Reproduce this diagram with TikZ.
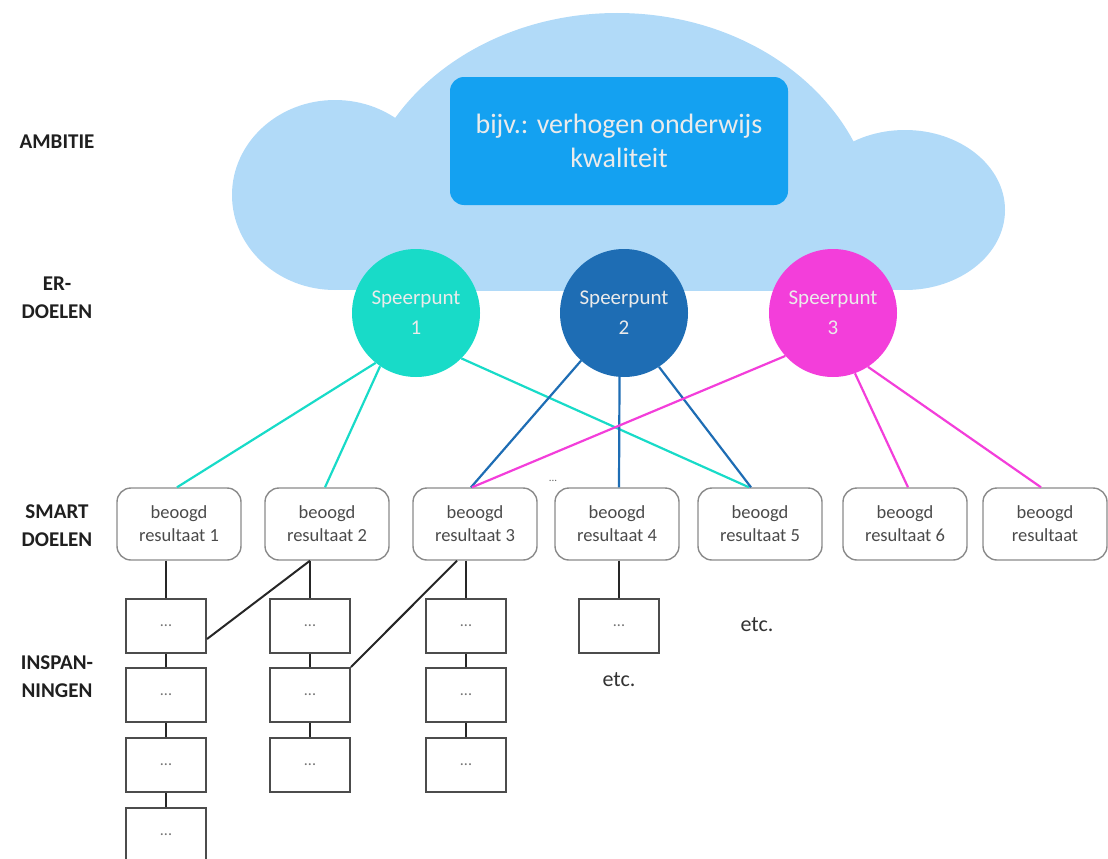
\documentclass[tikz,border=0pt]{standalone}
\usepackage{fontspec}
\setmainfont{Carlito}
\definecolor{cloudc}{HTML}{B1DAF8}
\definecolor{ambc}{HTML}{14A1F1}
\definecolor{turq}{HTML}{18DBC8}
\definecolor{dblue}{HTML}{1E6DB4}
\definecolor{magc}{HTML}{F33EDA}
\definecolor{boxgray}{HTML}{8A8A8A}
\definecolor{txtgray}{HTML}{4A4A4A}
\tikzset{
  lvl/.style={font=\bfseries\fontsize{21}{28}\selectfont, align=center, text=black!88},
  spk/.style={circle, minimum size=128pt, inner sep=0pt, text=white!92!black, align=center, font=\fontsize{21}{30}\selectfont},
  res/.style={draw=boxgray, line width=1.4pt, rounded corners=14pt, minimum width=124pt, minimum height=72pt, inner sep=0pt, align=center, text=txtgray, font=\fontsize{18.5}{23}\selectfont},
  insp/.style={draw=black!70, line width=2pt, minimum width=80pt, minimum height=54pt, inner sep=0pt, text=black!55, font=\fontsize{16}{16}\selectfont},
  lnk/.style={line width=2.2pt},
  blk/.style={line width=2pt, black!85},
  etc/.style={font=\fontsize{22}{24}\selectfont, text=black!80}
}
\begin{document}
\begin{tikzpicture}[x=1pt,y=-1pt]
\useasboundingbox (0,0) rectangle (1108,859);
% cloud
\begin{scope}
\clip (0,0) rectangle (1108,290);
\fill[cloudc] (617,230) ellipse [x radius=259, y radius=217];
\fill[cloudc] (335,195) ellipse [x radius=103, y radius=95];
\fill[cloudc] (905,210) ellipse [x radius=100, y radius=80];
\fill[cloudc] (340,200) rectangle (905,290);
\end{scope}
\node[fill=ambc, rounded corners=14pt, minimum width=338pt, minimum height=128pt, inner sep=0pt, text=white!92!black, align=center, font=\fontsize{28}{34}\selectfont] (amb) at (619,141) {bijv.: verhogen onderwijs\\kwaliteit};
% level labels
\node[lvl] (l1) at (57,142) {AMBITIE};
\node[lvl] (l2) at (57,298) {ER-\\DOELEN};
\node[lvl] (l3) at (57,526) {SMART\\DOELEN};
\node[lvl] (l4) at (57,677) {INSPAN-\\NINGEN};
% result boxes
\node[res] (r1) at (179,524) {beoogd\\resultaat 1};
\node[res] (r2) at (327,524) {beoogd\\resultaat 2};
\node[res] (r3) at (475,524) {beoogd\\resultaat 3};
\node[res] (r4) at (617,524) {beoogd\\resultaat 4};
\node[res] (r5) at (760,524) {beoogd\\resultaat 5};
\node[res] (r6) at (905,524) {beoogd\\resultaat 6};
\node[res] (r7) at (1045,524) {beoogd\\resultaat};
\node[font=\fontsize{11}{11}\selectfont, text=black!60] (dots) at (553,481) {...};
% speerpunten
\node[spk, fill=turq] (s1) at (416,313) {Speerpunt\\1};
\node[spk, fill=dblue] (s2) at (624,313) {Speerpunt\\2};
\node[spk, fill=magc] (s3) at (833,313) {Speerpunt\\3};
% links
\draw[lnk, turq] (s1.231) -- ([xshift=-2pt]r1.north);
\draw[lnk, turq] (s1.236) -- ([xshift=-2pt]r2.north);
\draw[lnk, turq] (s1.315) -- ([xshift=-11pt]r5.north);
\draw[lnk, dblue] (s2.228) -- ([xshift=-4pt]r3.north);
\draw[lnk, dblue] (s2.266) -- ([xshift=2pt]r4.north);
\draw[lnk, dblue] (s2.303) -- ([xshift=-9pt]r5.north);
\draw[lnk, magc] (s3.222) -- ([xshift=-3pt]r3.north);
\draw[lnk, magc] (s3.290) -- ([xshift=3pt]r6.north);
\draw[lnk, magc] (s3.303) -- ([xshift=-4pt]r7.north);
% inspanningen
\node[insp] (a1) at (166,626) {...};
\node[insp] (a2) at (166,695) {...};
\node[insp] (a3) at (166,765) {...};
\node[insp] (a4) at (166,835) {...};
\node[insp] (b1) at (310,626) {...};
\node[insp] (b2) at (310,695) {...};
\node[insp] (b3) at (310,765) {...};
\node[insp] (c1) at (466,626) {...};
\node[insp] (c2) at (466,695) {...};
\node[insp] (c3) at (466,765) {...};
\node[insp] (d1) at (619,626) {...};
\node[etc] (e1) at (757,625) {etc.};
\node[etc] (e2) at (619,680) {etc.};
% black connectors
\draw[blk] (r1.south -| a1.north) -- (a1.north);
\draw[blk] (r2.south -| b1.north) -- (b1.north);
\draw[blk] (r3.south -| c1.north) -- (c1.north);
\draw[blk] (r4.south -| d1.north) -- (d1.north);
\draw[blk] (a1) -- (a2); \draw[blk] (a2) -- (a3); \draw[blk] (a3) -- (a4);
\draw[blk] (b1) -- (b2); \draw[blk] (b2) -- (b3);
\draw[blk] (c1) -- (c2); \draw[blk] (c2) -- (c3);
\draw[blk] (r2.south -| b1.north) -- ([yshift=-13pt]a1.east);
\draw[blk] ([xshift=-18pt]r3.south) -- (b2.north east);
\end{tikzpicture}
\end{document}
